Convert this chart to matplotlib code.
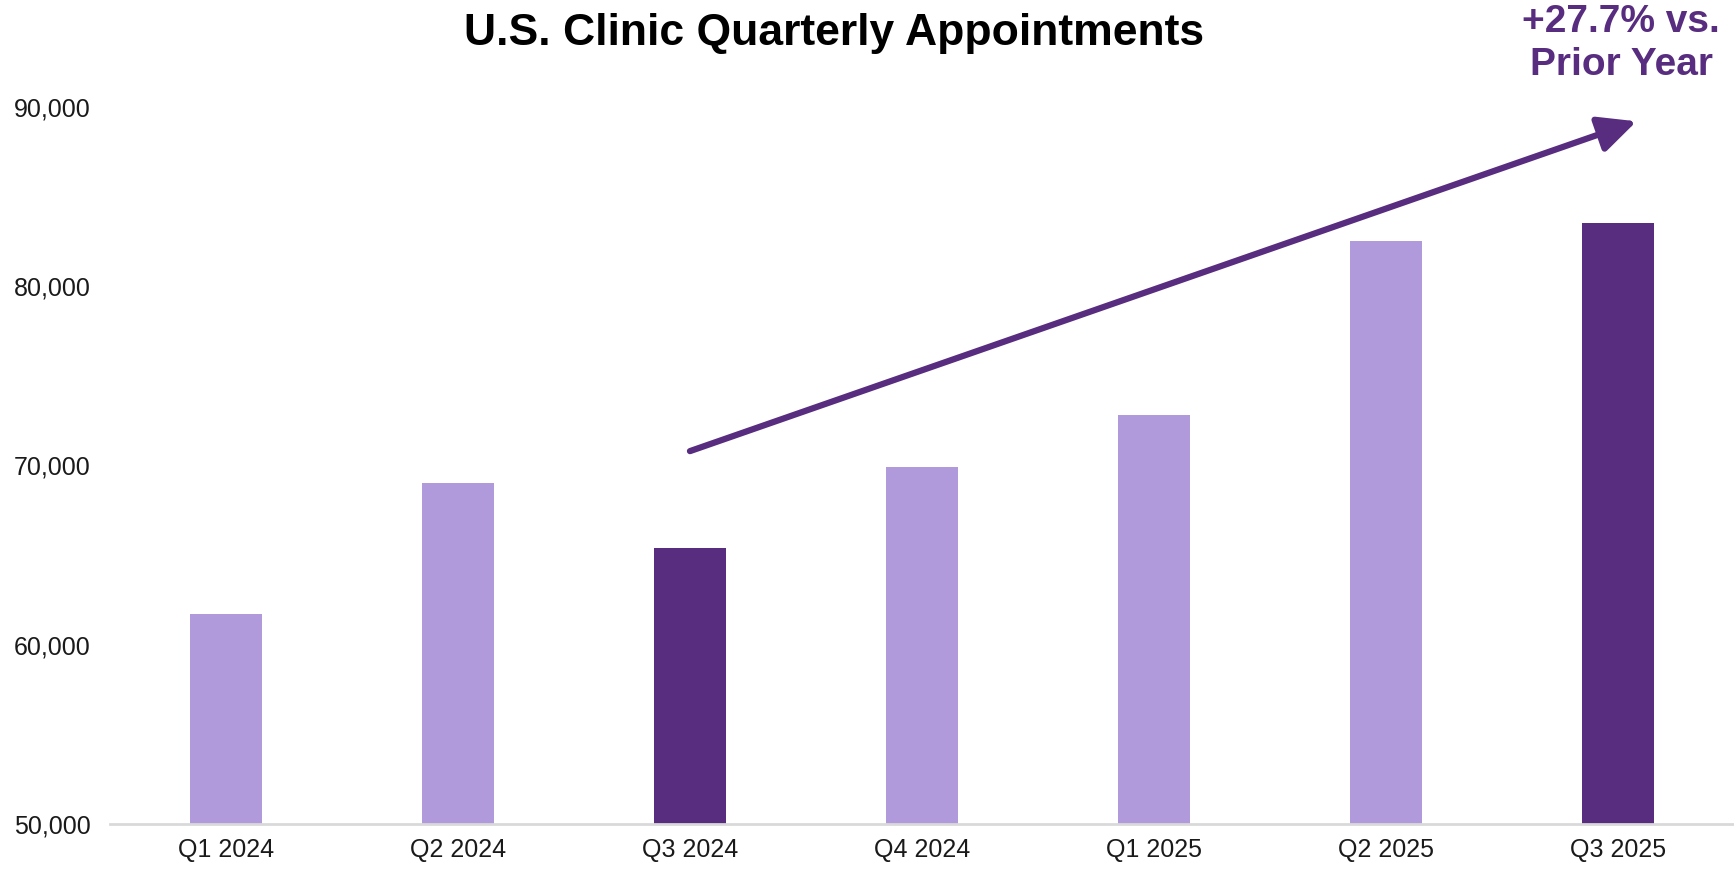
#!/usr/bin/env python3
#
# U.S. clinic quarterly appointments, bar chart with growth arrow
#

import matplotlib.pyplot as plt
from matplotlib.ticker import FuncFormatter

quarters = ['Q1 2024', 'Q2 2024', 'Q3 2024', 'Q4 2024', 'Q1 2025', 'Q2 2025', 'Q3 2025']
appointments = [61700, 69000, 65400, 69900, 72800, 82500, 83500]
highlight = ['Q3 2024', 'Q3 2025']
yticks = [50000, 60000, 70000, 80000, 90000]
callout = '+27.7% vs.\nPrior Year'

light = '#B09ADB'
dark = '#582C7E'

plt.rcParams['font.family'] = ['Liberation Sans', 'DejaVu Sans']

fig = plt.figure(figsize=(17.34, 8.76), dpi=100)
ax = fig.add_axes([0.0634, 0.0594, 0.9366, 0.8185])

colors = [dark if q in highlight else light for q in quarters]
x = range(len(quarters))
ax.bar(x, appointments, width=0.31, color=colors)

ax.set_xlim(-0.5, len(quarters) - 0.5)
ax.set_ylim(50000, 90000)
ax.set_xticks(list(x))
ax.set_xticklabels(quarters, fontsize=18, color='#1a1a1a')
ax.set_yticks(yticks)
ax.yaxis.set_major_formatter(FuncFormatter(lambda v, p: f'{v:,.0f}'))
ax.tick_params(axis='y', labelsize=18, labelcolor='#1a1a1a', length=0, pad=14)
ax.tick_params(axis='x', length=0, pad=10)

for side in ['top', 'right', 'left']:
	ax.spines[side].set_visible(False)
ax.spines['bottom'].set_color('#d9d9d9')
ax.spines['bottom'].set_linewidth(2)

# growth arrow from Q3 2024 to Q3 2025
ax.annotate('', xy=(6.08, 89200), xytext=(2.0, 70800),
	arrowprops=dict(arrowstyle='-|>,head_length=2.3,head_width=1.1',
		color=dark, lw=4.5, shrinkA=0, shrinkB=0),
	annotation_clip=False)

fig.text(0.935, 0.995, callout, ha='center', va='top', fontsize=28,
	fontweight='bold', color=dark, linespacing=1.25)

fig.text(0.481, 0.985, 'U.S. Clinic Quarterly Appointments', ha='center', va='top',
	fontsize=32, fontweight='bold', color='black')

plt.savefig('out.png', dpi=100)
